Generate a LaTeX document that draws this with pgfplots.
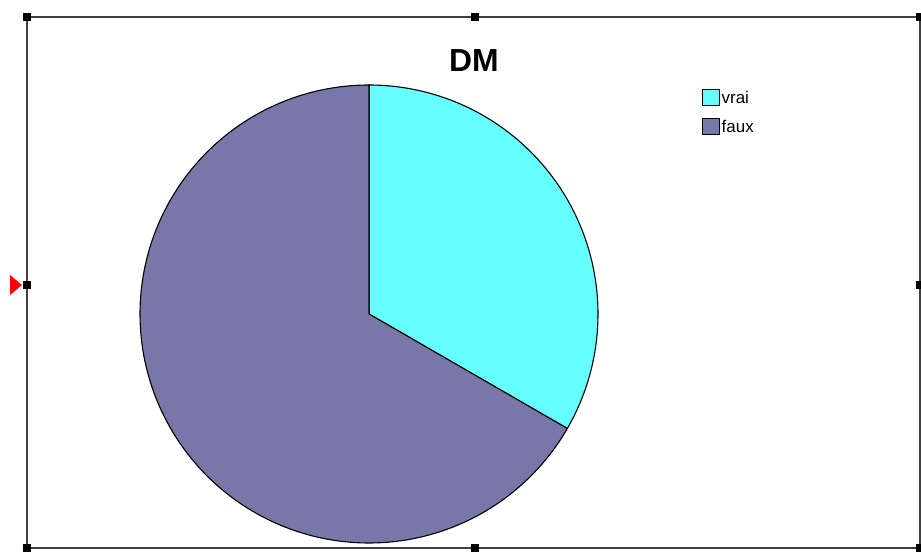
\documentclass[border=0pt]{standalone}
\usepackage{pgfplots}
\pgfplotsset{compat=1.18}
\usepackage{fontspec}
\setmainfont{Liberation Sans}
\definecolor{vraic}{HTML}{66FFFF}
\definecolor{fauxc}{HTML}{7878A8}
\definecolor{framec}{HTML}{404040}
% pie values (percent)
\def\vraival{33.33}
\def\fauxval{66.67}
\newcommand\handle[2]{\fill[black] (axis cs:#1,#2) ++(-4bp,-4bp) rectangle ++(8bp,8bp);}
\begin{document}
\begin{tikzpicture}
\useasboundingbox (0,0) rectangle (921bp,553bp);
\pgfmathsetmacro{\aA}{90}
\pgfmathsetmacro{\aB}{90-3.6*\vraival}
\pgfmathsetmacro{\aC}{\aB-3.6*\fauxval}
\begin{axis}[at={(0,0)}, anchor=south west, scale only axis,
  width=921bp, height=553bp, xmin=0, xmax=921, ymin=0, ymax=553,
  axis lines=none, clip=false,
  legend style={at={(axis cs:702,464)}, anchor=north west, draw=none, fill=none,
    font=\fontsize{17}{18}\selectfont, inner sep=0pt, row sep=12bp,
    nodes={inner sep=1.5bp},
    cells={anchor=west}},
  legend image code/.code={\draw[#1,draw=black,line width=1bp] (0bp,-8bp) rectangle (17bp,8bp);},
  legend cell align=left]
% frame
\draw[framec, line width=2bp] (axis cs:27,536) -- (axis cs:921,536);
\draw[framec, line width=2bp] (axis cs:27,536) -- (axis cs:27,5);
\draw[framec, line width=2bp] (axis cs:27,5) -- (axis cs:921,5);
\draw[framec, line width=2bp] (axis cs:920,536) -- (axis cs:920,5);
\handle{27}{536}\handle{475}{536}\handle{920}{536}
\handle{27}{268}\handle{920}{268}
\handle{27}{5}\handle{475}{5}\handle{920}{5}
\fill[red] (axis cs:10,278) -- (axis cs:22,268) -- (axis cs:10,258) -- cycle;
% pie
\addplot[fill=vraic, draw=black, line width=1.1bp, domain=\aB:\aA, samples=120]
  ({369+229*cos(x)},{239+229*sin(x)}) -- (axis cs:369,239) -- cycle;
\addlegendentry{vrai}
\addplot[fill=fauxc, draw=black, line width=1.1bp, domain=\aC:\aB, samples=240]
  ({369+229*cos(x)},{239+229*sin(x)}) -- (axis cs:369,239) -- cycle;
\addlegendentry{faux}
\node[font=\bfseries\fontsize{32}{33}\selectfont, anchor=center] at (axis cs:474,492) {DM};
\end{axis}
\end{tikzpicture}
\end{document}
